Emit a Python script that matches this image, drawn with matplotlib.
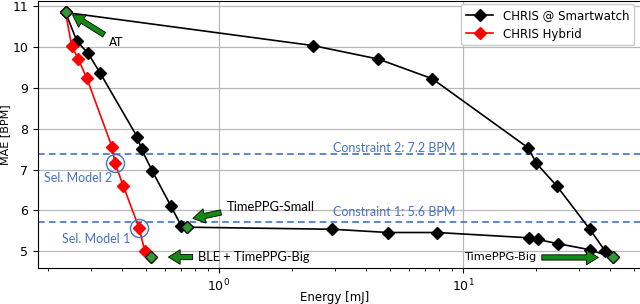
import numpy as np
import matplotlib
matplotlib.use("Agg")
import matplotlib.pyplot as plt

# CHRIS @ Smartwatch, plotted as a closed path through the design points
sw_energy = [0.235, 0.262, 0.290, 0.325, 0.463, 0.482, 0.533, 0.636, 0.699, 0.741,
             2.91, 4.94, 7.85, 18.7, 20.2, 24.4, 33.0, 41.1,
             38.2, 33.0, 24.3, 20.0, 18.5, 7.48, 4.50, 2.43, 0.235]
sw_mae = [10.84, 10.13, 9.85, 9.37, 7.79, 7.49, 6.96, 6.10, 5.63, 5.59,
          5.54, 5.46, 5.46, 5.33, 5.29, 5.19, 5.04, 4.85,
          5.01, 5.55, 6.59, 7.15, 7.53, 9.22, 9.70, 10.03, 10.84]

# CHRIS Hybrid
hy_energy = [0.235, 0.249, 0.265, 0.287, 0.365, 0.375, 0.406, 0.471, 0.497, 0.525]
hy_mae = [10.84, 10.03, 9.70, 9.24, 7.54, 7.15, 6.59, 5.56, 5.00, 4.86]

# highlighted single models
hl_names = ["AT", "TimePPG-Small", "BLE + TimePPG-Big", "TimePPG-Big"]
hl_energy = [0.235, 0.741, 0.525, 41.1]
hl_mae = [10.84, 5.59, 4.86, 4.85]

# selected hybrid models
sel_names = ["Sel. Model 2", "Sel. Model 1"]
sel_energy = [0.375, 0.471]
sel_mae = [7.15, 5.56]

# constraints (drawn line level, label)
con_level = [7.37, 5.72]
con_labels = ["Constraint 2: 7.2 BPM", "Constraint 1: 5.6 BPM"]
con_text_x = 2.93

BLUE = "#4472C4"
GREEN_PT = "#2f9a2f"
GREEN_AR = "#138a13"
ALT_FONT = ["Lato", "DejaVu Sans"]

fig = plt.figure(figsize=(6.4, 3.04), dpi=100)
ax = fig.add_axes([38 / 640, 1 - 268.3 / 304, 607 / 640, 267.3 / 304])
ax.set_xscale("log")
ax.set_xlim(10 ** ((38 - 219) / 244), 10 ** ((645 - 219) / 244))
ax.set_ylim(4.585, 11.12)

ax.plot(sw_energy, sw_mae, color="black", marker="D", markersize=6.3, linewidth=1.2,
        label="CHRIS @ Smartwatch", zorder=3)
ax.plot(hy_energy, hy_mae, color="red", marker="D", markersize=6.3, linewidth=1.2,
        markeredgecolor="red", label="CHRIS Hybrid", zorder=3)
ax.plot(hl_energy, hl_mae, linestyle="none", marker="D", markersize=6.3,
        color=GREEN_PT, markeredgecolor="black", markeredgewidth=0.8, zorder=5)
ax.plot(sel_energy, sel_mae, linestyle="none", marker="o", markersize=13,
        markerfacecolor="none", markeredgecolor=BLUE, markeredgewidth=1.0, zorder=4)

for lvl, lab, dy in zip(con_level, con_labels, [4.6, 7.4]):
    ax.axhline(lvl, color=BLUE, linestyle="--", linewidth=1.2, dashes=(4, 2.5), zorder=2)
    ax.annotate(lab, (con_text_x, lvl), xytext=(0, dy), textcoords="offset points",
                ha="left", va="center", color=BLUE, fontsize=9, family=ALT_FONT)

# arrows: (tip offset, tail offset) in points from the highlighted point
arrow_offsets = [((5, -1.7), (27.8, -16)), ((4.1, 6.3), (24.3, 10.6)),
                 ((12.7, 0), (30.2, 0)), ((-10.4, 0), (-51.1, 0))]
text_offsets = [(31.2, -21.8), (28.4, 14.7), (34.1, 0), (-55.2, 0)]
text_ha = ["left", "left", "left", "right"]
text_fam = ["DejaVu Sans", ALT_FONT, ALT_FONT, "DejaVu Sans"]
text_size = [8.5, 9.3, 9.3, 8.2]

px_per_pt = fig.dpi / 72
for i, name in enumerate(hl_names):
    x, y = hl_energy[i], hl_mae[i]
    (tx, ty), (sx, sy) = arrow_offsets[i]
    base = ax.transData.transform((x, y))
    tip = ax.transData.inverted().transform(base + np.array([tx, ty]) * px_per_pt)
    tail = ax.transData.inverted().transform(base + np.array([sx, sy]) * px_per_pt)
    ax.annotate("", xy=tip, xytext=tail,
                arrowprops=dict(facecolor=GREEN_AR, edgecolor="black", linewidth=0.6,
                                width=3.8, headwidth=10.5, headlength=8.5, shrink=0),
                zorder=6)
    ax.annotate(name, (x, y), xytext=text_offsets[i], textcoords="offset points",
                ha=text_ha[i], va="center", fontsize=text_size[i], family=text_fam[i])

for i, name in enumerate(sel_names):
    offs = [(-51.1, -10.4), (-55.4, -7.4)][i]
    ax.annotate(name, (sel_energy[i], sel_mae[i]), xytext=offs, textcoords="offset points",
                ha="left", va="center", color=BLUE, fontsize=9, family=ALT_FONT)

ax.set_yticks([5, 6, 7, 8, 9, 10, 11])
ax.tick_params(labelsize=9)
ax.grid(True, which="major", color="#b8b8b8", linewidth=0.9)
ax.set_axisbelow(True)

ax.set_xlabel("Energy [mJ]", fontsize=8.5)
ax.set_ylabel("MAE [BPM]", fontsize=8)
ax.xaxis.set_label_coords((335 - 38) / 607, -0.085)
ax.yaxis.set_label_coords(-0.046, 0.5)

ax.legend(loc="upper right", bbox_to_anchor=(634 / 640, 300 / 304),
          bbox_transform=fig.transFigure, borderaxespad=0, fontsize=8.5,
          handlelength=2.3, framealpha=1.0)

fig.savefig("out.png", dpi=100)
